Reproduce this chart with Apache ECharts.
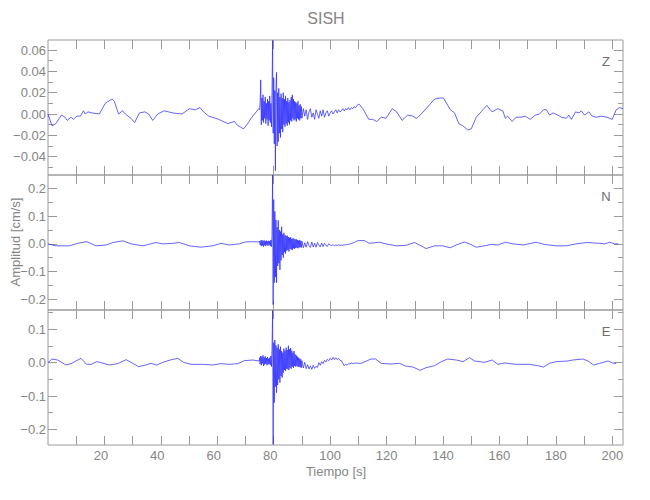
<!DOCTYPE html>
<html><head><meta charset="utf-8">
<script src="https://cdn.jsdelivr.net/npm/echarts@6/dist/echarts.min.js"></script>
<style>html,body{margin:0;padding:0;background:#fff}#c{width:650px;height:500px}</style>
</head><body><div id="c"></div>
<script>
// ---------- text ----------
const titleText = 'SISH';
const xAxisTitle = 'Tiempo [s]';
const yAxisTitle = 'Amplitud [cm/s]';
const componentLabels = ['Z', 'N', 'E'];

// ---------- ticks ----------
const xTickValues = [10,20,30,40,50,60,70,80,90,100,110,120,130,140,150,160,170,180,190,200];
const xLabelValues = [20,40,60,80,100,120,140,160,180,200];
const timeRange = [0, 203.8];
const zMajor = [-0.04,-0.02,0,0.02,0.04,0.06];
const zMinor = [-0.05,-0.03,-0.01,0.01,0.03,0.05];
const nMajor = [-0.2,-0.1,0,0.1,0.2];
const nMinor = [-0.15,-0.05,0.05,0.15];
const eMajor = [-0.2,-0.1,0,0.1];
const eMinor = [-0.15,-0.05,0.05,0.15];
const zRange = [-0.0572, 0.0694];
const nRange = [-0.239, 0.249];
const eRange = [-0.247, 0.158];

// ---------- shared burst sampling times (s) ----------
const burstTime = [75.0,75.2,75.4,75.6,75.8,76.0,76.2,76.4,76.6,76.8,
77.0,77.2,77.4,77.6,77.8,78.0,78.2,78.4,78.6,78.8,
79.0,79.2,79.4,79.6,79.8,80.0,80.2,80.4,80.6,80.8,
81.0,81.2,81.4,81.6,81.8,82.0,82.2,82.4,82.6,82.8,
83.0,83.2,83.4,83.6,83.8,84.0,84.2,84.4,84.6,84.8,
85.0,85.2,85.4,85.6,85.8,86.0,86.2,86.4,86.6,86.8,
87.0,87.2,87.4,87.6,87.8,88.0,88.2,88.4,88.6,88.8,
89.0,89.2,89.4,89.6,89.8,
90.0,90.5,91.0,91.5,92.0,92.5,93.0,93.5,94.0,94.5,95.0,95.5,96.0,96.5,97.0,97.5,98.0,98.5,99.0,99.5,100.0,
100.5,101.0,101.5,102.0,102.5,103.0,103.5,104.0,104.5,105.0,105.5,106.0,106.5,107.0,107.5,108.0,108.5,109.0,109.5,110.0];

// ---------- Z component ----------
const zPreTime = [0,1.4,2.8,4.8,6.0,6.8,8.2,9.0,10.3,11.5,12.6,13.2,14.2,15.6,18.2,20.3,22.7,23.5,25.0,26.4,27.4,29.4,30.7,32.4,34.3,35.7,37.1,38.9,41.2,44.2,47.5,50.1,52.2,53.9,55.1,57.0,60.5,63.7,66.1,66.9,69.3,70.5,72.0,73.8,74.7];
const zPreAmp = [0,-0.011,-0.009,-0.001,-0.003,-0.006,-0.003,-0.005,-0.002,-0.002,0.003,0,0.002,0.001,0,0.010,0.014,0.012,0,0.003,0,-0.004,-0.008,0.001,0.002,0,-0.006,0,0.003,0.001,0,0.005,0.004,0.006,0.002,-0.002,-0.005,-0.009,-0.007,-0.010,-0.014,-0.010,-0.004,0.002,0.005];
const zBurstAmp = [0.004,0.012,0.032,-0.010,0.015,-0.006,0.018,-0.008,0.012,-0.004,
0.016,-0.009,0.010,-0.005,0.014,-0.011,0.012,-0.006,0.017,-0.008,
0.010,-0.012,0.020,0.069,-0.018,0.034,-0.028,0.022,-0.053,0.026,
0.039,-0.030,0.020,-0.026,0.024,-0.018,0.016,-0.022,0.019,-0.014,
0.015,-0.017,0.020,-0.010,0.014,-0.012,0.017,-0.009,0.012,-0.011,
0.015,-0.008,0.011,-0.010,0.013,-0.006,0.016,-0.007,0.018,-0.004,
0.014,-0.006,0.012,-0.005,0.011,-0.007,0.010,-0.004,0.012,-0.005,
0.008,-0.006,0.009,-0.004,0.007,
-0.004,0.005,-0.002,0.004,-0.005,0.002,0.005,-0.003,0.001,-0.005,0.004,0.000,-0.004,0.003,-0.002,0.004,-0.003,0.001,0.003,-0.002,0.001,
0.003,0.000,0.002,0.004,0.001,0.004,0.002,0.003,0.005,0.003,0.005,0.004,0.006,0.004,0.006,0.005,0.007,0.006,0.008,0.009];
const zPostTime = [110.4,111.6,113.7,115.1,116.5,118.1,119.8,122.0,123.6,125.5,127.5,129.3,130.5,131.2,134.0,137.0,139.0,140.2,142.6,144.1,145.6,147.0,148.8,150.0,151.8,153.5,155.5,157.4,159.4,161.2,162.1,162.9,164.5,165.9,167.7,169.2,170.9,172.8,174.2,175.6,176.6,177.8,179.0,180.7,181.9,183.7,184.6,185.5,187.0,188.2,189.0,190.2,191.7,192.9,194.3,196.1,198.1,200.0,201.4,202.6,203.8];
const zPostAmp = [0.009,0.005,-0.005,-0.005,-0.007,-0.003,-0.004,0.005,0.002,-0.006,-0.001,-0.002,-0.004,-0.003,0.005,0.014,0.015,0.015,0.004,0.001,-0.009,-0.011,-0.015,-0.014,-0.003,0.002,0.008,0.002,0.005,0.003,-0.004,-0.002,-0.007,-0.003,-0.003,-0.002,-0.005,-0.001,0.000,0.004,0.004,-0.001,0.001,-0.001,-0.003,-0.004,-0.001,-0.005,0.002,0.001,0.003,-0.001,0.002,-0.002,-0.003,-0.002,-0.003,-0.005,0.004,0.006,0.005];

// ---------- N component ----------
const nPreTime = [0,2.8,7.6,10.5,13.7,17.0,20.6,23.0,26.5,29.5,33.6,36.5,38.1,40.7,44.2,46.6,50.1,54.2,58.4,61.3,64.3,67.8,69.9,72.5,74.9];
const nPreAmp = [0,-0.007,-0.007,0.002,0.008,-0.007,-0.004,0.005,0.011,0,-0.007,0,0.005,0,0.002,0.005,-0.007,-0.012,-0.007,0.002,-0.004,0,0.007,0.008,0.007];
const nBurstAmp = [0.010,-0.004,0.012,-0.008,0.014,-0.006,0.011,-0.010,0.013,-0.005,
0.010,-0.008,0.012,-0.004,0.009,-0.007,0.011,-0.003,0.010,-0.008,
0.014,-0.010,0.030,0.249,-0.220,0.160,-0.140,0.117,-0.120,0.087,
-0.141,0.060,-0.080,0.085,-0.070,0.050,-0.094,0.045,-0.060,0.062,
-0.040,0.035,-0.050,0.040,-0.030,0.032,-0.035,0.028,-0.025,0.030,
-0.022,0.025,-0.028,0.022,-0.018,0.024,-0.020,0.018,-0.022,0.020,
-0.016,0.019,-0.018,0.016,-0.015,0.017,-0.014,0.014,-0.016,0.012,
-0.013,0.014,-0.012,0.011,-0.013,
0.010,-0.014,0.004,-0.012,0.008,-0.006,-0.013,0.007,-0.011,0.002,-0.012,0.005,-0.004,-0.011,0.003,-0.010,0.002,-0.006,-0.009,0.001,-0.004,
-0.006,-0.003,-0.007,-0.004,-0.006,-0.003,-0.006,-0.004,-0.005,-0.003,-0.004,-0.002,-0.002,0.000,0.001,0.003,0.005,0.008,0.010,0.012];
const nPostTime = [112.1,113.9,117.5,119.8,123.4,127.0,129.9,131.7,134.0,137.0,139.9,142.6,144.7,147.6,149.4,151.8,154.7,157.1,159.4,162.2,164.8,168.4,173.0,176.0,180.1,183.7,187.2,190.8,195.5,197.3,199.1,200.8,202.2];
const nPostAmp = [0.012,0.002,0.006,0,-0.007,-0.005,0.005,-0.004,-0.017,-0.007,-0.007,-0.014,-0.004,0.007,0,-0.012,-0.007,-0.002,-0.004,0.006,0,-0.004,0.006,-0.002,-0.007,-0.007,0,0.005,0.002,0,0.006,0,0];

// ---------- E component ----------
const ePreTime = [0,1.4,3.4,6.4,8.2,9.9,11.7,13.7,15.3,17.3,18.8,21.7,24.7,27.7,29.4,32.1,34.7,36.5,38.5,40.7,43.3,46.0,48.0,50.7,54.8,58.4,61.3,64.3,67.3,69.6,72.5,74.9];
const ePreAmp = [0,0.011,0.008,-0.007,-0.003,0.005,0.013,-0.005,-0.005,0.003,0,-0.007,-0.003,0.009,0.001,-0.012,-0.007,-0.002,-0.007,0.001,0.008,0.013,0.001,-0.005,-0.005,-0.007,-0.003,-0.005,-0.003,0.006,0.008,0.005];
const eBurstAmp = [0.015,-0.004,0.020,-0.008,0.018,-0.002,0.022,-0.010,0.016,-0.006,
0.019,-0.003,0.014,-0.008,0.017,-0.005,0.012,-0.004,0.015,-0.007,
0.020,-0.012,0.040,0.157,-0.245,0.060,-0.120,0.068,-0.072,0.052,
-0.090,0.045,-0.067,0.055,-0.050,0.040,-0.060,0.048,-0.040,0.035,
-0.045,0.030,-0.030,0.042,-0.022,0.036,-0.025,0.045,-0.018,0.038,
-0.020,0.051,-0.022,0.040,-0.015,0.044,-0.018,0.036,-0.012,0.030,
-0.016,0.035,-0.010,0.025,-0.012,0.022,-0.010,0.018,-0.013,0.015,
-0.012,0.012,-0.014,0.010,-0.015,
0.006,-0.016,0.001,-0.018,-0.006,-0.019,-0.010,-0.020,-0.008,-0.017,-0.011,-0.014,0.000,-0.008,0.003,-0.003,0.007,0.002,0.010,0.006,0.013,
0.008,0.016,0.009,0.015,0.009,0.013,0.007,0.006,-0.002,-0.009,-0.004,-0.008,-0.003,-0.004,-0.001,-0.003,-0.001,-0.002,-0.001,-0.002];
const ePostTime = [111.0,114.5,116.1,118.1,121.6,124.6,126.7,129.3,131.9,134.0,137.0,139.4,141.7,144.7,147.1,149.4,151.2,154.7,157.5,159.4,161.8,165.9,170.6,173.6,175.6,177.8,180.1,184.2,186.0,189.6,191.4,193.4,195.5,198.5,200.8,201.4];
const ePostAmp = [-0.002,0.011,0.011,-0.002,-0.004,-0.002,-0.010,-0.013,-0.023,-0.015,-0.009,0.003,0.011,0.008,0.003,0.015,0.005,0.001,0.008,-0.005,-0.001,-0.005,-0.005,-0.009,-0.013,-0.002,0.003,0.005,0.008,0.011,0.005,-0.007,-0.002,0.005,-0.003,-0.002];

// ---------- build ----------
function pairs(t, v) { return t.map((x, i) => [x, v[i]]); }
function trace(preT, preV, burstV, postT, postV) {
  return pairs(preT, preV).concat(pairs(burstTime, burstV), pairs(postT, postV));
}
const traces = [
  trace(zPreTime, zPreAmp, zBurstAmp, zPostTime, zPostAmp),
  trace(nPreTime, nPreAmp, nBurstAmp, nPostTime, nPostAmp),
  trace(ePreTime, ePreAmp, eBurstAmp, ePostTime, ePostAmp)
];
const majors = [zMajor, nMajor, eMajor];
const minors = [zMinor, nMinor, eMinor];
const ranges = [zRange, nRange, eRange];
const decimals = [2, 1, 1];

const axisColor = '#9a9a9a';
const textColor = '#858585';
const FONT = '"Liberation Sans Narrow", "Liberation Sans", sans-serif';
const gridTops = [40, 175, 310];
const gridH = 135;

const grids = [], xAxes = [], yAxes = [], series = [];
for (let g = 0; g < 3; g++) {
  grids.push({ left: 48, right: 27, top: gridTops[g], height: gridH, show: true,
    borderColor: axisColor, borderWidth: 1, backgroundColor: 'transparent' });
  ['bottom', 'top'].forEach(pos => {
    xAxes.push({
      gridIndex: g, type: 'value', position: pos, min: timeRange[0], max: timeRange[1],
      axisLine: { show: false, onZero: false }, splitLine: { show: false },
      axisTick: { show: true, inside: true, length: 9, customValues: xTickValues,
        lineStyle: { color: axisColor, width: 1 } },
      axisLabel: {
        show: pos === 'bottom' && g === 2, customValues: xLabelValues, margin: 4,
        color: textColor, fontFamily: FONT, fontSize: 13,
        formatter: v => (v < 100 ? '{s|' + v + '}' : '' + v),
        rich: { s: { padding: [0, 7, 0, 0], color: textColor, fontFamily: FONT, fontSize: 13 } }
      }
    });
  });
  const fmt = v => v.toFixed(decimals[g]).replace('-', '\u2212');
  [['left', majors[g], 9, true], ['left', minors[g], 5, false],
   ['right', majors[g], 9, false], ['right', minors[g], 5, false]].forEach(([pos, vals, len, lab]) => {
    yAxes.push({
      gridIndex: g, type: 'value', position: pos, min: ranges[g][0], max: ranges[g][1],
      axisLine: { show: false, onZero: false }, splitLine: { show: false },
      axisTick: { show: true, inside: true, length: len, customValues: vals,
        lineStyle: { color: axisColor, width: 1 } },
      axisLabel: { show: lab, customValues: vals, margin: 2, formatter: fmt,
        color: textColor, fontFamily: FONT, fontSize: 13 }
    });
  });
  series.push({
    type: 'line', xAxisIndex: g * 2, yAxisIndex: g * 4, data: traces[g],
    showSymbol: false, symbol: 'none', clip: true, sampling: null,
    lineStyle: { color: '#2222ff', width: 0.7 }, animation: false, silent: true
  });
}

const graphics = [
  { type: 'text', x: 326, y: 18, style: { text: titleText, fill: textColor,
    font: '16px ' + FONT, textAlign: 'center', textVerticalAlign: 'middle' } },
  { type: 'text', x: 336, y: 471, style: { text: xAxisTitle, fill: textColor,
    font: '13px ' + FONT, textAlign: 'center', textVerticalAlign: 'middle' } },
  { type: 'text', x: 15, y: 242, rotation: Math.PI / 2, style: { text: yAxisTitle, fill: textColor,
    font: '13px ' + FONT, textAlign: 'center', textVerticalAlign: 'middle' } }
];
const letterY = [61, 196, 331];
componentLabels.forEach((t, i) => graphics.push({ type: 'text', x: 606, y: letterY[i],
  style: { text: t, fill: '#6e6e6e', font: '13px ' + FONT, textAlign: 'center', textVerticalAlign: 'middle' } }));

const chart = echarts.init(document.getElementById('c'), null, { renderer: 'svg', width: 650, height: 500 });
chart.setOption({
  animation: false, backgroundColor: '#ffffff',
  grid: grids, xAxis: xAxes, yAxis: yAxes, series: series, graphic: graphics
});
</script></body></html>
